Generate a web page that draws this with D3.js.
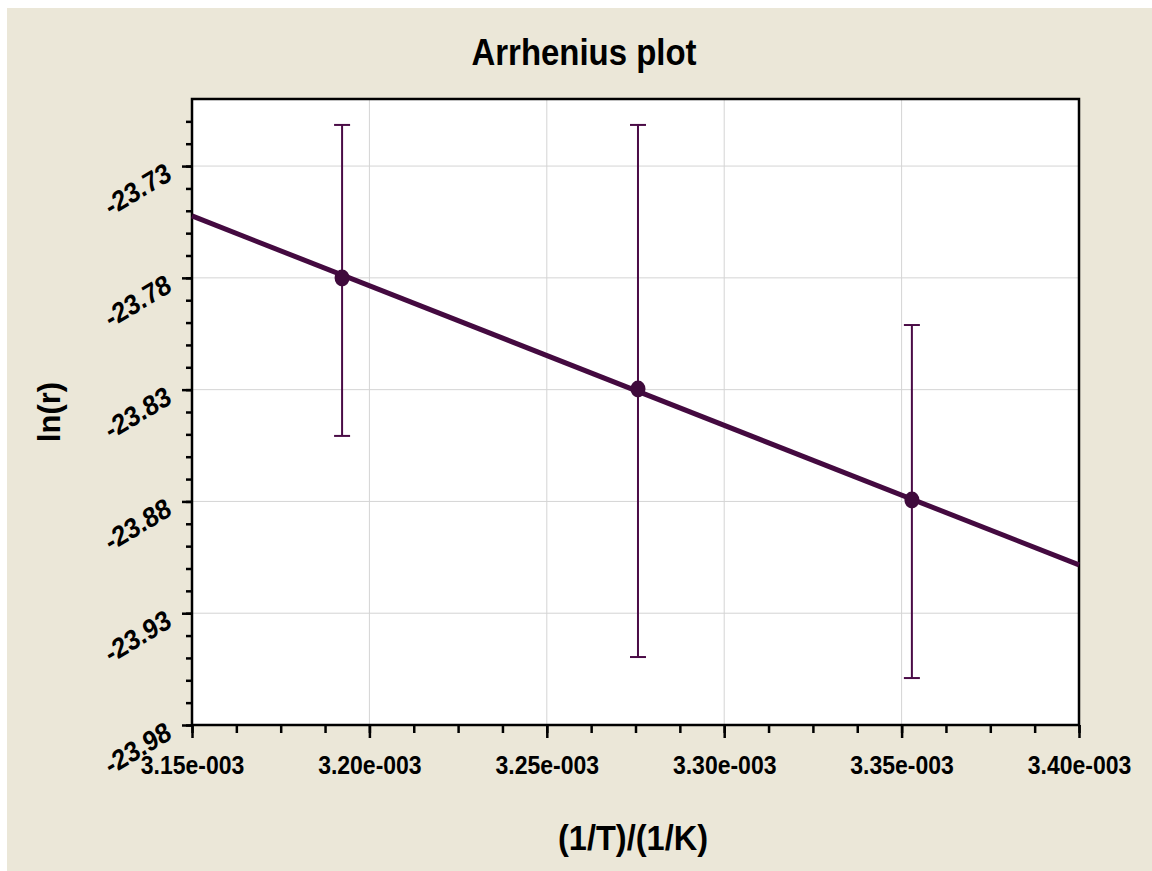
<!DOCTYPE html>
<html>
<head>
<meta charset="utf-8">
<script src="https://cdn.jsdelivr.net/npm/d3@7"></script>
<style>
  html, body { margin: 0; padding: 0; background: #ffffff; }
  svg { display: block; font-family: "Liberation Sans", Arial, sans-serif; }
</style>
</head>
<body>
<div id="chart"></div>
<script>
// measured points (1/T, ln r) with error half-widths
var invT = [3.1923e-3, 3.2757e-3, 3.3529e-3];
var lnR = [-23.7801, -23.8297, -23.8794];
var errUp = [0.0685, 0.1181, 0.0783];
var errDown = [0.0706, 0.1199, 0.0796];

// fitted line, read at the two ends of the x range
var fitX = [3.15e-3, 3.40e-3];
var fitY = [-23.7523, -23.9084];

var xMajor = [3.15e-3, 3.20e-3, 3.25e-3, 3.30e-3, 3.35e-3, 3.40e-3];
var yMajor = [-23.98, -23.93, -23.88, -23.83, -23.78, -23.73];

var W = 1152, H = 871;
var pLeft = 192, pRight = 1079, pTop = 99, pBottom = 725;
var purple = "#4a0b46";

var svg = d3.select("#chart")
    .append("svg")
    .attr("width", W)
    .attr("height", H);

// beige background
svg.append("rect")
    .attr("x", 7).attr("y", 8)
    .attr("width", W - 7).attr("height", H - 8)
    .attr("fill", "#ebe7d8");

var x = d3.scaleLinear().domain([3.15e-3, 3.40e-3]).range([pLeft, pRight]);
var y = d3.scaleLinear().domain([-23.98, -23.70]).range([pBottom, pTop]);

// minor ticks
var xMinor = d3.range(0, 21).map(function (i) { return 3.15e-3 + i * 0.0125e-3; });
var yMinor = d3.range(0, 28).map(function (i) { return -23.98 + i * 0.01; });

svg.append("rect")
    .attr("x", pLeft).attr("y", pTop)
    .attr("width", pRight - pLeft).attr("height", pBottom - pTop)
    .attr("fill", "#ffffff");

// grid
svg.append("g").selectAll("line")
    .data(xMajor.slice(1, -1))
    .enter().append("line")
    .attr("x1", function (d) { return x(d); })
    .attr("x2", function (d) { return x(d); })
    .attr("y1", pTop).attr("y2", pBottom)
    .attr("stroke", "#d4d4d4").attr("stroke-width", 1);

svg.append("g").selectAll("line")
    .data(yMajor.slice(1))
    .enter().append("line")
    .attr("y1", function (d) { return y(d); })
    .attr("y2", function (d) { return y(d); })
    .attr("x1", pLeft).attr("x2", pRight)
    .attr("stroke", "#d4d4d4").attr("stroke-width", 1);

// axes
var xAxisMinor = d3.axisBottom(x).tickValues(xMinor).tickSize(8).tickFormat("");
var xAxis = d3.axisBottom(x).tickValues(xMajor).tickSize(13).tickPadding(27)
    .tickFormat(function (d) { return (d * 1000).toFixed(2) + "e-003"; });
var yAxisMinor = d3.axisLeft(y).tickValues(yMinor).tickSize(6).tickFormat("");
var yAxis = d3.axisLeft(y).tickValues(yMajor).tickSize(10).tickFormat("");

function styleAxis(g) {
    g.select(".domain").remove();
    g.selectAll(".tick line").attr("stroke", "#000").attr("stroke-width", 2.5);
}

svg.append("g").attr("transform", "translate(0," + pBottom + ")").call(xAxisMinor).call(styleAxis);
var gx = svg.append("g").attr("transform", "translate(0," + pBottom + ")").call(xAxis).call(styleAxis);
gx.attr("font-size", 23).attr("font-family", "Liberation Sans, Arial, sans-serif");
gx.selectAll(".tick text")
    .attr("fill", "#000")
    .attr("font-weight", "bold")
    .attr("transform", "scale(1,1.1)")
    .attr("dy", "0.2em");

svg.append("g").attr("transform", "translate(" + pLeft + ",0)").call(yAxisMinor).call(styleAxis);
svg.append("g").attr("transform", "translate(" + pLeft + ",0)").call(yAxis).call(styleAxis);

// slanted y labels
svg.append("g").selectAll("text")
    .data(yMajor)
    .enter().append("text")
    .attr("transform", function (d) {
        return "translate(" + (pLeft - 19) + "," + (y(d) + 13) + ") scale(1,1.13) rotate(-28)";
    })
    .attr("text-anchor", "end")
    .attr("font-size", 25)
    .attr("font-weight", "bold")
    .attr("fill", "#000")
    .text(function (d) { return d.toFixed(2); });

// frame
svg.append("rect")
    .attr("x", pLeft).attr("y", pTop)
    .attr("width", pRight - pLeft).attr("height", pBottom - pTop)
    .attr("fill", "none")
    .attr("stroke", "#000").attr("stroke-width", 2.5);

// fit line
var fit = fitX.map(function (d, i) { return [d, fitY[i]]; });
svg.append("path")
    .datum(fit)
    .attr("d", d3.line().x(function (d) { return x(d[0]); }).y(function (d) { return y(d[1]); }))
    .attr("stroke", "#440a40").attr("stroke-width", 5).attr("fill", "none");

// error bars
var pts = invT.map(function (d, i) {
    return { x: d, y: lnR[i], hi: lnR[i] + errUp[i], lo: lnR[i] - errDown[i] };
});
var eb = svg.append("g").selectAll("g").data(pts).enter().append("g");
eb.append("line")
    .attr("x1", function (d) { return x(d.x); })
    .attr("x2", function (d) { return x(d.x); })
    .attr("y1", function (d) { return y(d.hi); })
    .attr("y2", function (d) { return y(d.lo); })
    .attr("stroke", purple).attr("stroke-width", 2);
eb.append("line")
    .attr("x1", function (d) { return x(d.x) - 8; })
    .attr("x2", function (d) { return x(d.x) + 8; })
    .attr("y1", function (d) { return y(d.hi); })
    .attr("y2", function (d) { return y(d.hi); })
    .attr("stroke", purple).attr("stroke-width", 2);
eb.append("line")
    .attr("x1", function (d) { return x(d.x) - 8; })
    .attr("x2", function (d) { return x(d.x) + 8; })
    .attr("y1", function (d) { return y(d.lo); })
    .attr("y2", function (d) { return y(d.lo); })
    .attr("stroke", purple).attr("stroke-width", 2);
eb.append("ellipse")
    .attr("cx", function (d) { return x(d.x); })
    .attr("cy", function (d) { return y(d.y); })
    .attr("rx", 7.5).attr("ry", 8.5)
    .attr("fill", "#3f0a3c");

// titles
svg.append("text")
    .attr("x", 584).attr("y", 65)
    .attr("text-anchor", "middle")
    .attr("font-size", 36).attr("font-weight", "bold")
    .attr("textLength", 225).attr("lengthAdjust", "spacingAndGlyphs")
    .text("Arrhenius plot");

svg.append("text")
    .attr("x", 633).attr("y", 850)
    .attr("text-anchor", "middle")
    .attr("font-size", 35).attr("font-weight", "bold")
    .attr("textLength", 150).attr("lengthAdjust", "spacingAndGlyphs")
    .text("(1/T)/(1/K)");

svg.append("text")
    .attr("transform", "translate(60,412) rotate(-90)")
    .attr("text-anchor", "middle")
    .attr("font-size", 31).attr("font-weight", "bold")
    .text("ln(r)");
</script>
</body>
</html>
